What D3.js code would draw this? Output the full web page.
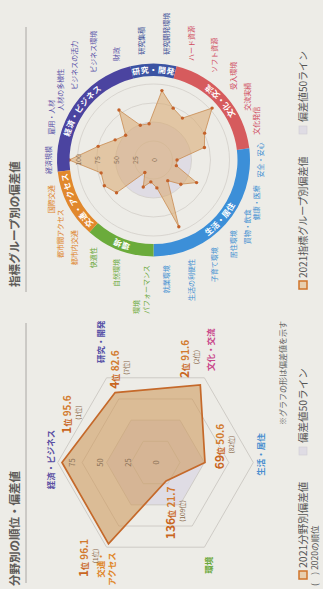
<!DOCTYPE html>
<html><head><meta charset="utf-8">
<script src="https://cdn.jsdelivr.net/npm/d3@7"></script>
<style>
html,body{margin:0;padding:0;background:#edece7;}
svg{display:block;}
text{font-family:"Noto Sans CJK JP","Noto Sans",sans-serif;}
</style></head><body>
<svg id="chart" width="323" height="589"></svg>
<script>
// ---------- data ----------
const fieldNames = ["経済・ビジネス", "研究・開発", "文化・交流", "生活・居住", "環境", "交通・アクセス"];
const fieldScores = [95.6, 82.6, 91.6, 50.6, 21.7, 96.1];
const fieldRanks = [1, 4, 2, 69, 136, 1];
const fieldRanksPrev = [1, 7, 2, 82, 109, 1];
const hexGrid = [25, 50, 75, 100];
const hexTicks = [0, 25, 50, 75];

const groupNames = ["経済規模", "雇用・人材", "人材の多様性", "ビジネスの活力", "ビジネス環境", "財政",
  "研究集積", "研究開発環境",
  "ハード資源", "ソフト資源", "受入環境", "交流実績", "文化発信",
  "安全・安心", "健康・医療", "買物・飲食", "居住環境", "子育て環境", "生活の利便性", "就業環境",
  "環境パフォーマンス", "自然環境", "快適性",
  "都市内交通", "都市間アクセス", "国際交通"];
const groupField = [0, 0, 0, 0, 0, 0, 1, 1, 2, 2, 2, 2, 2, 3, 3, 3, 3, 3, 3, 3, 4, 4, 4, 5, 5, 5];
const groupScores = [111, 75, 57, 49, 80, 49, 48, 92, 73, 67, 103, 76, 69, 31, 31, 64, 48, 33, 94, 37, 29, 38, 20, 65, 73, 71];
const ringGrid = [25, 50, 75, 100];
const ringTicks = [0, 25, 50, 75, 100];
const baseLine = 50;

const titles = ["分野別の順位・偏差値", "指標グループ別の偏差値"];
const legendLeft = ["2021分野別偏差値", "偏差値50ライン"];
const legendRight = ["2021指標グループ別偏差値", "偏差値50ライン"];
const noteShape = "※グラフの形は偏差値を示す";
const notePrev = "(　) 2020の順位";

// ---------- styles ----------
const fieldTextColor = ["#5a4fa3", "#5550a6", "#c9478a", "#4a8fd0", "#6aa83a", "#e0872a"];
const ringColor = ["#4b44a0", "#3b53a3", "#d65b5d", "#3c8fd8", "#6bab3b", "#e1882d"];
const groupTextColor = ["#5a52a8", "#404e98", "#d04a5e", "#3f8fd2", "#6aa83a", "#de8126"];
const orange = "#c9661f";
const baseFill = "#dfdce4";

// ---------- page (landscape layout turned a quarter turn) ----------
const PW = 589, PH = 323;
const svg = d3.select("#chart");
svg.append("rect").attr("width", 323).attr("height", 589).attr("fill", "#edece7");
const page = svg.append("g").attr("transform", `translate(0,${PW}) rotate(-90)`);

const pt = (c, r, a) => [c.x + r * Math.sin(a), c.y - r * Math.cos(a)];

// titles and rules
[[3, 6, 266], [302, 297, 562]].forEach(([tx, x0, x1], k) => {
  page.append("text").attr("x", tx).attr("y", 19).attr("font-size", 11.5)
    .attr("font-weight", 700).attr("fill", "#5f5c59").text(titles[k]);
  page.append("line").attr("x1", x0).attr("x2", x1).attr("y1", 26).attr("y2", 26)
    .attr("stroke", "#9a9894").attr("stroke-width", 0.8);
});

// ---------- left: six-field hexagon ----------
const hexC = {x: 126.5, y: 155.5};
const hexR = d3.scaleLinear().domain([0, 100]).range([0, 97.8]);
const hexA = d3.scaleLinear().domain([0, fieldNames.length]).range([0, 2 * Math.PI]);
const closed = d3.line().curve(d3.curveLinearClosed);
const hexPath = v => closed(fieldNames.map((_, i) => pt(hexC, hexR(typeof v === "number" ? v : v[i]), hexA(i))));

const gL = page.append("g");
gL.append("path").attr("d", hexPath(baseLine)).attr("fill", baseFill);
hexGrid.forEach(v => gL.append("path").attr("d", hexPath(v))
  .attr("fill", "none").attr("stroke", "#cbc7c2").attr("stroke-width", 0.9));
gL.append("path").attr("d", hexPath(fieldScores))
  .attr("fill", "#cf9a5c").attr("fill-opacity", 0.58)
  .attr("stroke", "#c5692a").attr("stroke-width", 1.7).attr("stroke-linejoin", "miter");
hexTicks.forEach(v => {
  const [x, y] = pt(hexC, hexR(v) * 1.14, 0);
  gL.append("text").attr("x", x).attr("y", y).attr("text-anchor", "middle")
    .attr("dominant-baseline", "central").attr("font-size", 7.5).attr("fill", "#8c7257").text(v);
});

// field names around the hexagon
const fieldLabelOffset = [[3, -8], [36, -7], [28, 6], [8, 7], [-18, 4], [-5, 0]];
fieldNames.forEach((name, i) => {
  const [x, y] = pt(hexC, hexR(100), hexA(i));
  const [dx, dy] = fieldLabelOffset[i];
  const t = gL.append("text").attr("font-size", 8.5).attr("font-weight", 700).attr("fill", fieldTextColor[i]);
  if (i === 5) {
    const lines = name.replace("・", "・\n").split("\n");
    t.attr("text-anchor", "end");
    lines.forEach((ln, k) => t.append("tspan").attr("x", x + dx).attr("y", y + dy - 6 + k * 11 + 3).text(ln));
  } else {
    t.attr("x", x + dx).attr("y", y + dy).attr("text-anchor", "middle").attr("dominant-baseline", "central").text(name);
  }
});

// rank and score beside each vertex
const valueOffset = [[48, 5], [23, 0], [26, -15], [16, 15], [-32, 5], [-14, -25]];
fieldScores.forEach((s, i) => {
  const [x, y] = pt(hexC, hexR(s), hexA(i));
  const cx = x + valueOffset[i][0], cy = y + valueOffset[i][1];
  const t = gL.append("text").attr("x", cx).attr("y", cy + 4).attr("text-anchor", "middle")
    .attr("font-weight", 700).attr("fill", orange);
  t.append("tspan").attr("font-size", 12).text(fieldRanks[i]);
  t.append("tspan").attr("font-size", 8).text("位");
  t.append("tspan").attr("font-size", 10).attr("fill", "#d27a2e").text(" " + s.toFixed(1));
  gL.append("text").attr("x", cx + 2).attr("y", cy + 14).attr("text-anchor", "middle")
    .attr("font-size", 6.5).attr("fill", "#8a6a4c").text(`(${fieldRanksPrev[i]}位)`);
});

// ---------- right: indicator groups ----------
const rc = {x: 429, y: 153.5};
const rr = d3.scaleLinear().domain([0, 100]).range([0, 76]);
const step = 2 * Math.PI / groupNames.length;
const ga = i => i * step;
const R_IN = 84, R_OUT = 96.5;

const gR = page.append("g");
const gC = gR.append("g").attr("transform", `translate(${rc.x},${rc.y})`);

gC.append("circle").attr("r", rr(baseLine)).attr("fill", baseFill);
ringGrid.forEach(v => gC.append("circle").attr("r", rr(v)).attr("fill", "none")
  .attr("stroke", "#cfcac4").attr("stroke-width", 0.7));

const star = d3.lineRadial().angle((d, i) => ga(i)).radius(d => rr(d)).curve(d3.curveLinearClosed);
gC.append("path").attr("d", star(groupScores))
  .attr("fill", "#d9a86e").attr("fill-opacity", 0.55)
  .attr("stroke", "#c98b52").attr("stroke-width", 0.8);
gC.selectAll("circle.dot").data(groupScores).join("circle").attr("class", "dot")
  .attr("cx", (d, i) => rr(d) * Math.sin(ga(i))).attr("cy", (d, i) => -rr(d) * Math.cos(ga(i)))
  .attr("r", 1.7).attr("fill", "#c4622a");

ringTicks.forEach(v => gC.append("text").attr("x", 0).attr("y", -rr(v)).attr("text-anchor", "middle")
  .attr("dominant-baseline", "central").attr("font-size", 7).attr("fill", "#8c7257").text(v));

// coloured ring, one arc per field, with the field name set along it
const arc = d3.arc().innerRadius(R_IN).outerRadius(R_OUT);
const defs = svg.append("defs");
fieldNames.forEach((name, f) => {
  const idx = groupField.map((g, i) => g === f ? i : -1).filter(i => i >= 0);
  const a0 = ga(d3.min(idx)) - step / 2, a1 = ga(d3.max(idx)) + step / 2;
  gC.append("path").attr("d", arc({startAngle: a0, endAngle: a1})).attr("fill", ringColor[f]);
  const mid = (a0 + a1) / 2;
  const bottom = mid > Math.PI / 2 && mid < 3 * Math.PI / 2;
  const r = bottom ? 93.2 : 87.3;
  const p0 = bottom ? a1 : a0, p1 = bottom ? a0 : a1;
  const s = [r * Math.sin(p0), -r * Math.cos(p0)], e = [r * Math.sin(p1), -r * Math.cos(p1)];
  const large = (a1 - a0) > Math.PI ? 1 : 0;
  defs.append("path").attr("id", "ringText" + f)
    .attr("d", `M${s[0]},${s[1]} A${r},${r} 0 ${large} ${bottom ? 0 : 1} ${e[0]},${e[1]}`);
  gC.append("text").attr("font-size", 8).attr("font-weight", 700).attr("fill", "#ffffff")
    .attr("letter-spacing", 0.4)
    .append("textPath").attr("href", "#ringText" + f).attr("startOffset", "50%")
    .attr("text-anchor", "middle").text(name);
});

// indicator names around the ring
const wrapAt = {20: 2};
groupNames.forEach((name, i) => {
  const a = ga(i), deg = a * 180 / Math.PI;
  const [x, y] = [106 * Math.sin(a), -106 * Math.cos(a)];
  const side = (deg < 8 || deg > 352 || Math.abs(deg - 180) < 8) ? "middle" : (deg < 180 ? "start" : "end");
  const t = gC.append("text").attr("font-size", 7).attr("fill", groupTextColor[groupField[i]]);
  if (wrapAt[i]) {
    const lines = [name.slice(0, wrapAt[i]), name.slice(wrapAt[i])];
    const spans = lines.map((ln, k) => t.append("tspan").attr("y", y - 5 + k * 10)
      .attr("dominant-baseline", "central").text(ln));
    const w = d3.max(spans, sp => sp.node().getComputedTextLength());
    spans.forEach(sp => sp.attr("x", x - w));
  } else {
    t.attr("x", x).attr("y", y).attr("text-anchor", side).attr("dominant-baseline", "central").text(name);
  }
});

// ---------- legends ----------
function legend(x0, x1, labels, size) {
  page.append("rect").attr("x", x0 - 4).attr("y", 299).attr("width", 8).attr("height", 8)
    .attr("fill", "#e8cfae").attr("stroke", "#d0742a").attr("stroke-width", 1.5);
  page.append("text").attr("x", x0 + 7).attr("y", 307).attr("font-size", size).attr("fill", "#555").text(labels[0]);
  page.append("rect").attr("x", x1 - 4).attr("y", 299).attr("width", 8).attr("height", 8)
    .attr("fill", baseFill).attr("stroke", "#cfcbd4").attr("stroke-width", 0.6);
  page.append("text").attr("x", x1 + 8).attr("y", 307).attr("font-size", size).attr("fill", "#555").text(labels[1]);
}
legend(14, 138, legendLeft, 10.5);
legend(304, 459, legendRight, 10);
page.append("text").attr("x", 268).attr("y", 285.5).attr("text-anchor", "end")
  .attr("font-size", 8).attr("fill", "#666").text(noteShape);
page.append("text").attr("x", 3).attr("y", 318).attr("font-size", 8.5).attr("fill", "#555").text(notePrev);
</script>
</body></html>
